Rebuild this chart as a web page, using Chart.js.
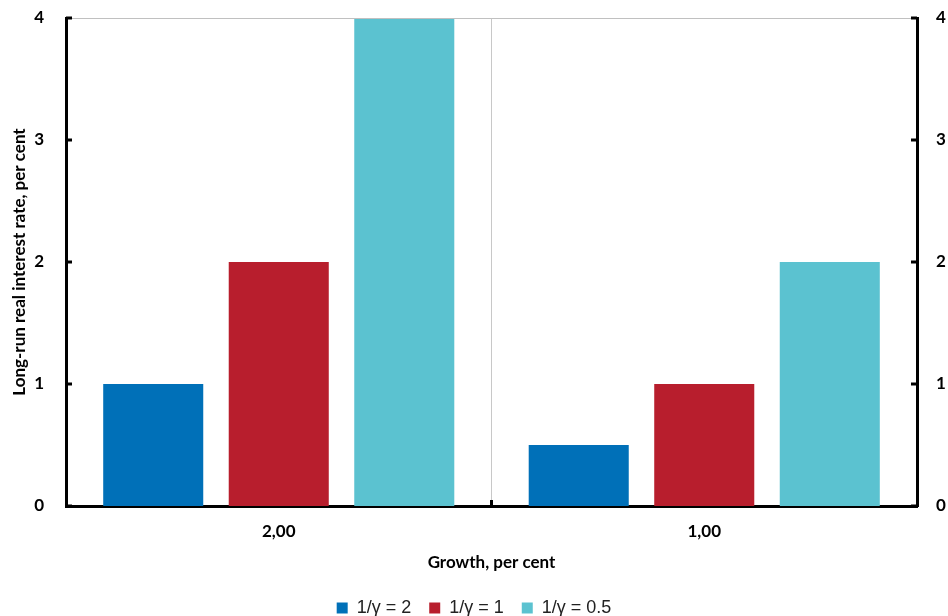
<!DOCTYPE html>
<html><head><meta charset="utf-8">
<script src="https://cdn.jsdelivr.net/npm/chart.js@4/dist/chart.umd.min.js"></script>
<style>html,body{margin:0;padding:0;background:#fff}#wrap{width:948px;height:616px}</style>
</head><body><div id="wrap"><canvas id="c" width="948" height="616"></canvas></div>
<script>
const categories = ['2,00', '1,00'];
const seriesNames = ['1/\u03b3 = 2', '1/\u03b3 = 1', '1/\u03b3 = 0.5'];
const seriesA = [1, 0.5];
const seriesB = [2, 1];
const seriesC = [4, 2];
const yTicks = [0, 1, 2, 3, 4];
const colors = ['#0070B8', '#B81E2D', '#5BC2D0'];

const boldFam = 'Lato, Carlito, Calibri, sans-serif';
const tickFont = {family: boldFam, size: 17, weight: 'bold'};

const inwardTicks = {
  id: 'inwardTicks',
  afterDraw(chart) {
    const ctx = chart.ctx, a = chart.chartArea;
    const y = chart.scales.y, x = chart.scales.x;
    ctx.save();
    ctx.strokeStyle = '#c0c0c0'; ctx.lineWidth = 1;
    ctx.beginPath(); ctx.moveTo(a.left, a.top + 0.5); ctx.lineTo(a.right, a.top + 0.5); ctx.stroke();
    ctx.strokeStyle = '#000'; ctx.lineWidth = 3;
    yTicks.forEach(v => {
      const py = Math.round(y.getPixelForValue(v));
      ctx.beginPath(); ctx.moveTo(a.left, py); ctx.lineTo(a.left + 6, py); ctx.stroke();
      ctx.beginPath(); ctx.moveTo(a.right, py); ctx.lineTo(a.right - 6, py); ctx.stroke();
    });
    for (let i = 1; i < categories.length; i++) {
      const px = (x.getPixelForValue(i - 1) + x.getPixelForValue(i)) / 2;
      ctx.beginPath(); ctx.moveTo(px, a.bottom); ctx.lineTo(px, a.bottom - 6); ctx.stroke();
    }
    ctx.restore();
  }
};

new Chart(document.getElementById('c'), {
  type: 'bar',
  data: {
    labels: categories,
    datasets: [
      {label: seriesNames[0], data: seriesA, backgroundColor: colors[0]},
      {label: seriesNames[1], data: seriesB, backgroundColor: colors[1]},
      {label: seriesNames[2], data: seriesC, backgroundColor: colors[2]}
    ]
  },
  options: {
    responsive: false,
    animation: false,
    layout: {padding: {top: 18, left: 0, right: 0, bottom: -11}},
    datasets: {bar: {categoryPercentage: 0.885, barPercentage: 0.797}},
    plugins: {
      legend: {
        position: 'bottom',
        labels: {
          color: '#222',
          font: {family: 'Liberation Sans, Arial, sans-serif', size: 18},
          boxWidth: 11, boxHeight: 11, padding: 18
        }
      },
      tooltip: {enabled: false}
    },
    scales: {
      x: {
        offset: true,
        grid: {display: true, color: '#c8c8c8', lineWidth: 1, drawTicks: false, offset: true},
        border: {display: true, color: '#000', width: 3},
        ticks: {color: '#000', font: tickFont, padding: 15},
        title: {display: true, text: 'Growth, per cent', color: '#000', font: {family: boldFam, size: 17, weight: 'bold'}, padding: {top: 12, bottom: 8}},
        afterFit(s) { s.height = 75; }
      },
      y: {
        position: 'left',
        min: 0, max: 4,
        afterBuildTicks(s) { s.ticks = yTicks.map(v => ({value: v})); },
        grid: {display: false, drawTicks: true, tickLength: 22},
        border: {display: true, color: '#000', width: 3},
        ticks: {color: '#000', font: tickFont, padding: 0},
        title: {display: true, text: 'Long-run real interest rate, per cent', color: '#000', font: {family: boldFam, size: 17, weight: 'bold'}, padding: {top: 9, bottom: 0}},
        afterFit(s) { s.width = 66; }
      },
      y2: {
        position: 'right',
        min: 0, max: 4,
        afterBuildTicks(s) { s.ticks = yTicks.map(v => ({value: v})); },
        grid: {display: false, drawTicks: true, tickLength: 19},
        border: {display: true, color: '#000', width: 3},
        ticks: {color: '#000', font: tickFont, padding: 0},
        afterFit(s) { s.width = 31; }
      }
    }
  },
  plugins: [inwardTicks]
});
</script>
</body></html>
